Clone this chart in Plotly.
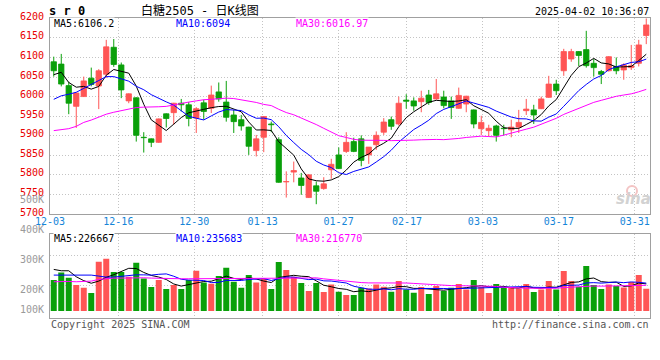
import plotly.graph_objects as go
import pandas as pd

# ---------------- data ----------------
dates = ["12-03", "12-04", "12-05", "12-06", "12-09", "12-10", "12-11", "12-12", "12-13",
         "12-16", "12-17", "12-18", "12-19", "12-20", "12-23", "12-24", "12-25", "12-26", "12-27",
         "12-30", "12-31", "01-02", "01-03", "01-06", "01-07", "01-08", "01-09", "01-10",
         "01-13", "01-14", "01-15", "01-16", "01-17", "01-20", "01-21", "01-22", "01-23", "01-24",
         "01-27", "02-05", "02-06", "02-07", "02-10", "02-11", "02-12", "02-13", "02-14",
         "02-17", "02-18", "02-19", "02-20", "02-21", "02-24", "02-25", "02-26", "02-27", "02-28",
         "03-03", "03-04", "03-05", "03-06", "03-07", "03-10", "03-11", "03-12", "03-13", "03-14",
         "03-17", "03-18", "03-19", "03-20", "03-21", "03-24", "03-25", "03-26", "03-27", "03-28",
         "03-31", "04-01", "04-02"]

opens = [6089, 6083, 6028, 5975, 6000, 6047, 6027, 6057, 6126, 6081,
         5989, 5997, 5896, 5892, 5883, 5956, 5959, 5983, 5979, 5945,
         5984, 5970, 6012, 5986, 5953, 5941, 5922, 5862, 5896, 5930,
         5890, 5782, 5807, 5792, 5742, 5772, 5765, 5813, 5851, 5860,
         5885, 5892, 5851, 5877, 5909, 5941, 5930, 5991, 5989, 5987,
         6004, 5994, 5999, 5989, 5970, 5981, 5966, 5918, 5913, 5925,
         5919, 5915, 5922, 5964, 5966, 5969, 5998, 6032, 6066, 6096,
         6115, 6120, 6085, 6064, 6066, 6077, 6068, 6074, 6085, 6156]
highs = [6102, 6109, 6038, 6010, 6051, 6074, 6070, 6145, 6147, 6087,
         6008, 5998, 5909, 5893, 5944, 5957, 5984, 5994, 5986, 5973,
         5992, 6028, 6036, 6040, 5966, 5953, 5923, 5902, 5950, 5936,
         5896, 5809, 5834, 5805, 5801, 5783, 5794, 5841, 5870, 5909,
         5895, 5901, 5871, 5911, 5945, 5949, 6000, 6006, 5998, 6015,
         6017, 6045, 6015, 6000, 6023, 6002, 5967, 5951, 5928, 5928,
         5928, 5941, 5966, 5994, 5979, 6000, 6053, 6043, 6122, 6122,
         6116, 6168, 6096, 6068, 6103, 6100, 6085, 6132, 6145, 6200]
lows = [6051, 6026, 5955, 5920, 5999, 6026, 5968, 6048, 6076, 5996,
        5983, 5885, 5857, 5871, 5882, 5921, 5928, 5962, 5924, 5907,
        5941, 5958, 5987, 5936, 5907, 5913, 5851, 5847, 5858, 5909,
        5780, 5742, 5781, 5749, 5741, 5725, 5762, 5790, 5815, 5856,
        5858, 5822, 5828, 5864, 5902, 5915, 5926, 5969, 5964, 5960,
        5979, 5992, 5970, 5943, 5969, 5960, 5919, 5902, 5898, 5885,
        5901, 5896, 5907, 5953, 5930, 5968, 5997, 6004, 6053, 6089,
        6078, 6074, 6051, 6032, 6064, 6057, 6043, 6068, 6077, 6134]
closes = [6066, 6032, 5983, 6009, 6040, 6031, 6066, 6127, 6082, 6017,
          6007, 5901, 5895, 5883, 5943, 5944, 5983, 5979, 5944, 5969,
          5962, 6004, 5994, 5947, 5936, 5925, 5873, 5892, 5949, 5928,
          5781, 5783, 5811, 5773, 5800, 5758, 5777, 5827, 5816, 5883,
          5860, 5837, 5871, 5901, 5935, 5924, 5983, 5988, 5976, 5996,
          5985, 6007, 5977, 5972, 6003, 6001, 5930, 5934, 5919, 5901,
          5918, 5922, 5934, 5968, 5953, 5994, 6032, 6015, 6115, 6115,
          6105, 6079, 6074, 6057, 6102, 6066, 6081, 6079, 6132, 6183]
volumes = [239300, 264900, 247100, 222700, 213800, 196000, 300500, 310400, 266000, 266000,
           250400, 297100, 244900, 216000, 239300, 209300, 222700, 209300, 239300, 270500,
           231600, 227100, 252700, 280400, 233800, 213800, 256000, 231600, 244900, 209300,
           299300, 272700, 250400, 229300, 202700, 229300, 199300, 224900, 200400, 189300,
           189300, 213800, 211600, 224900, 217100, 200400, 236000, 208200, 197100, 216000,
           192700, 219300, 202700, 213800, 226000, 208200, 239300, 216000, 196000, 226000,
           214900, 216000, 211600, 226000, 199300, 208200, 236000, 208200, 269300, 236000,
           217100, 286000, 222700, 209300, 224900, 219300, 214900, 232700, 256000, 210400]

# moving-average values before enough in-window history exists
ma5_head = [6056, 6062, 6036, 6024]
ma10_head = [5993, 6002, 6006, 6011, 6021, 6030, 6041, 6051, 6051]
ma30_head = [5913, 5915, 5918, 5924, 5934, 5940, 5948, 5955, 5960, 5964,
             5969, 5972, 5973, 5973, 5974, 5975, 5979, 5983, 5986, 5989,
             5992, 5993, 5995, 5996, 5995, 5992, 5989, 5985, 5980]
vma5_head = [274900, 270500, 270500, 250400]
vma10_head = [256000, 256000, 256000, 256000, 256000, 256000, 252700, 249300, 249300]
vma30_head = [233800, 234900, 234900, 233800, 233800, 236000, 241600, 244900, 246000, 246000,
              247100, 247100, 247100, 246000, 244900, 244900, 244900, 243800, 243800, 243800,
              244900, 244900, 244900, 244900, 244900, 244900, 246000, 244900, 243800]

tick_dates = ["12-03", "12-16", "12-30", "01-13", "01-27", "02-17", "03-03", "03-17", "03-31"]
price_ticks = [5700, 5750, 5800, 5850, 5900, 5950, 6000, 6050, 6100, 6150, 6200]
vol_tick_labels = [500000, 400000, 300000, 200000, 100000]

title_text = "白糖2505 - 日K线图"
symbol_text = "s r 0"
time_text = "2025-04-02 10:36:07"
price_ma_text = ["MA5:6106.2", "MA10:6094", "MA30:6016.97"]
vol_ma_text = ["MA5:226667", "MA10:235683", "MA30:216770"]

# ---------------- styles ----------------
RED = "#ff5555"
GREEN = "#0aa00a"
MA_COLORS = ["#000000", "#0000ff", "#ff00ff"]
BORDER = "#a0a0a0"
GRID = "#c4c4c4"
DASH = "1px,2px"
FONT = "DejaVu Sans Mono"
W, H = 660, 360
L_MARGIN, R_MARGIN = 50, 10
VOL_BASE = 136000
VOL_RANGE = [112000, 392000]
PRICE_RANGE = [price_ticks[0], price_ticks[-1]]


def ma(values, window, head):
    rolled = pd.Series(values, dtype=float).rolling(window).mean().tolist()
    return list(head) + rolled[len(head):]


def px(x):
    return (x - L_MARGIN) / (W - L_MARGIN - R_MARGIN)


def py(y):
    return 1 - y / H


n = len(dates)
idx = list(range(n))
is_up = [c >= o for o, c in zip(opens, closes)]
tick_idx = [dates.index(d) for d in tick_dates]

main_dom = [py(214), py(18.3)]
vol_dom = [py(318.3), py(234.3)]


def to_paper(v, rng, dom):
    return dom[0] + (v - rng[0]) / (rng[1] - rng[0]) * (dom[1] - dom[0])


fig = go.Figure()

# wicks
for up, col in [(True, RED), (False, GREEN)]:
    wx, wy = [], []
    for i in idx:
        if is_up[i] == up:
            wx += [i, i, None]
            wy += [lows[i], highs[i], None]
    fig.add_trace(go.Scatter(x=wx, y=wy, mode="lines", line=dict(color=col, width=1),
                             hoverinfo="skip", xaxis="x", yaxis="y"))

# bodies
for up, col in [(True, RED), (False, GREEN)]:
    bx = [i for i in idx if is_up[i] == up]
    fig.add_trace(go.Bar(x=bx,
                         base=[min(opens[i], closes[i]) for i in bx],
                         y=[abs(closes[i] - opens[i]) for i in bx],
                         width=0.72, marker=dict(color=col, line=dict(color=col, width=0.8)),
                         hoverinfo="skip", xaxis="x", yaxis="y"))

# price MAs
for (win, head), col in zip([(5, ma5_head), (10, ma10_head), (30, ma30_head)], MA_COLORS):
    fig.add_trace(go.Scatter(x=idx, y=ma(closes, win, head), mode="lines",
                             line=dict(color=col, width=1), hoverinfo="skip",
                             xaxis="x", yaxis="y"))

# volume bars
for up, col in [(True, RED), (False, GREEN)]:
    bx = [i for i in idx if is_up[i] == up]
    fig.add_trace(go.Bar(x=bx, base=VOL_BASE, y=[volumes[i] - VOL_BASE for i in bx],
                         width=0.8, marker=dict(color=col, line=dict(width=0)),
                         hoverinfo="skip", xaxis="x2", yaxis="y2"))

# volume MAs
for (win, head), col in zip([(5, vma5_head), (10, vma10_head), (30, vma30_head)], MA_COLORS):
    fig.add_trace(go.Scatter(x=idx, y=ma(volumes, win, head), mode="lines",
                             line=dict(color=col, width=1), hoverinfo="skip",
                             xaxis="x2", yaxis="y2"))

# placeholder traces for the date-grid axes
fig.add_trace(go.Scatter(x=[], y=[], xaxis="x3", yaxis="y", hoverinfo="skip"))
fig.add_trace(go.Scatter(x=[], y=[], xaxis="x4", yaxis="y2", hoverinfo="skip"))

frame = dict(showline=True, mirror=True, linecolor=BORDER, linewidth=1, zeroline=False)

fig.update_layout(
    width=W, height=H,
    margin=dict(l=L_MARGIN, r=R_MARGIN, t=0, b=0, pad=0),
    paper_bgcolor="white", plot_bgcolor="white",
    showlegend=False, barmode="overlay", hovermode=False,
    font=dict(family=FONT, size=10, color="#000"),
    xaxis=dict(domain=[0, 1], anchor="y", range=[-0.5, n - 0.5], showgrid=False,
               showticklabels=False, ticks="", **frame),
    yaxis=dict(domain=main_dom, anchor="x", range=PRICE_RANGE,
               tickvals=price_ticks, showgrid=True, gridcolor=GRID, griddash=DASH, gridwidth=1,
               ticks="", showticklabels=False, **frame),
    xaxis3=dict(overlaying="x", anchor="y", range=[0, n - 1], tickvals=tick_idx,
                ticktext=tick_dates, showgrid=True, gridcolor=GRID, griddash=DASH,
                gridwidth=1, ticks="", ticklen=0,
                showline=False, zeroline=False,
                tickfont=dict(color="#1585d8", size=10, family=FONT)),
    xaxis2=dict(domain=[0, 1], anchor="y2", range=[-0.5, n - 0.5], showgrid=False,
                showticklabels=False, ticks="", **frame),
    yaxis2=dict(domain=vol_dom, anchor="x2", range=VOL_RANGE,
                tickvals=[220000, 320000], showticklabels=False, showgrid=True,
                gridcolor=GRID, griddash=DASH, gridwidth=1, ticks="", **frame),
    xaxis4=dict(overlaying="x2", anchor="y2", range=[0, n - 1], tickvals=tick_idx,
                showticklabels=False, showgrid=True, gridcolor=GRID, griddash=DASH,
                gridwidth=1, ticks="", showline=False, zeroline=False),
)

ann = []


def text(x, y, s, color="#000", size=10, xanchor="left", family=FONT, bg=None, bold=False,
         style="normal"):
    ann.append(dict(xref="paper", yref="paper", x=px(x), y=py(y), text=("<b>%s</b>" % s) if bold else s,
                    showarrow=False, xanchor=xanchor, yanchor="middle",
                    font=dict(color=color, size=size, family=family, style=style),
                    bgcolor=bg, borderpad=0))


text(48, 11, symbol_text, size=12, bold=True)
text(200, 10, title_text, size=12, xanchor="center", family="DejaVu Sans Mono, Noto Sans CJK SC")
text(650, 12, time_text, xanchor="right")
for s, x, col in zip(price_ma_text, [53, 175, 295], MA_COLORS):
    text(x, 24, s, color=col, bg="white")
for s, x, col in zip(vol_ma_text, [53, 175, 295], MA_COLORS):
    text(x, 238, s, color=col, bg="white")
text(50, 324, "Copyright 2025 SINA.COM", color="#555555")
text(650, 324, "http://finance.sina.com.cn", color="#555555", xanchor="right")
text(652, 199, "sina", color="#d2d2d2", size=15, xanchor="right", family="DejaVu Sans",
     bold=True, style="italic")

# price axis labels (red, just above their grid lines)
for v in price_ticks:
    ann.append(dict(xref="paper", yref="paper", x=px(46), y=to_paper(v, PRICE_RANGE, main_dom),
                    yshift=2, text=str(v), showarrow=False, xanchor="right", yanchor="middle",
                    font=dict(color="#e80000", size=10, family=FONT)))

# volume axis labels (grey)
for v in vol_tick_labels:
    ann.append(dict(xref="paper", yref="paper", x=px(46),
                    y=to_paper(max(v, VOL_BASE), VOL_RANGE, vol_dom),
                    yshift=2, text="%dK" % (v // 1000), showarrow=False, xanchor="right",
                    yanchor="middle", font=dict(color="#9a9a9a", size=10, family=FONT)))

fig.update_layout(annotations=ann)
fig.add_shape(type="circle", xref="paper", yref="paper",
              x0=px(627), x1=px(637), y0=py(196), y1=py(186),
              line=dict(color="#f3c4c4", width=2), fillcolor="rgba(0,0,0,0)")

fig.write_html("out.html", config={"displayModeBar": False},
               post_script="document.body.style.margin='0';document.body.style.padding='0';")
